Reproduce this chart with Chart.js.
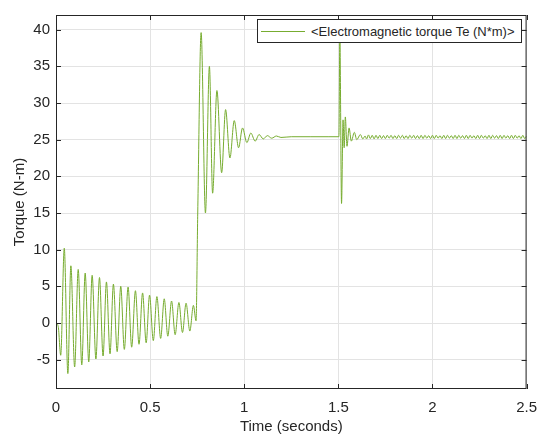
<!DOCTYPE html>
<html>
<head>
<meta charset="utf-8">
<title>Electromagnetic torque</title>
<script src="https://cdn.jsdelivr.net/npm/chart.js@4.4.1/dist/chart.umd.min.js"></script>
<style>
  html, body { margin: 0; padding: 0; background: #fff; }
  #wrap { position: relative; width: 547px; height: 438px; overflow: hidden; }
  #legendBox {
    position: absolute; left: 257px; top: 19px; width: 265px; height: 24px;
    box-sizing: border-box; border: 1px solid #262626; background: #fff;
    font: 13px "Liberation Sans", Arial, sans-serif; color: #262626;
    display: flex; align-items: center; white-space: nowrap;
  }
  #legendBox .swatch { width: 44px; height: 0; border-top: 1px solid #77ac30; margin: 0 6px 0 3px; }
</style>
</head>
<body>
<div id="wrap">
  <canvas id="torqueChart" width="547" height="438"></canvas>
  <div id="legendBox"><span class="swatch"></span><span>&lt;Electromagnetic torque Te (N*m)&gt;</span></div>
</div>
<script>
// ---------------------------------------------------------------
// data (peaks / troughs of each swing)
// ---------------------------------------------------------------
const xTicks = [0, 0.5, 1, 1.5, 2, 2.5];
const yTicks = [-5, 0, 5, 10, 15, 20, 25, 30, 35, 40];

// start-up, no load (0 - 0.75 s)
const startTimes = [0, 0.012, 0.025, 0.044, 0.063, 0.079, 0.099, 0.118, 0.137, 0.155, 0.174,
  0.192, 0.212, 0.231, 0.250, 0.268, 0.287, 0.305, 0.325, 0.344, 0.363,
  0.383, 0.402, 0.422, 0.441, 0.460, 0.479, 0.497, 0.517, 0.536, 0.556,
  0.575, 0.594, 0.614, 0.633, 0.653, 0.672, 0.691, 0.711, 0.730, 0.744, 0.753];
const startTorque = [0, -0.5, -4.4, 10.2, -6.9, 7.8, -6.0, 7.3, -5.7, 6.8, -5.3,
  6.5, -4.9, 6.2, -4.5, 5.6, -4.2, 5.3, -3.9, 5.0, -3.6,
  4.9, -3.3, 4.4, -2.9, 4.1, -2.7, 3.8, -2.4, 3.6, -2.1,
  3.3, -1.8, 3.0, -1.6, 2.8, -1.3, 2.7, -1.1, 2.4, 0.3, 15.0];

// load applied (0.75 - 1.5 s)
const loadTimes = [0.771, 0.794, 0.815, 0.832, 0.855, 0.880, 0.901, 0.924, 0.947, 0.970,
  0.991, 1.014, 1.035, 1.058, 1.079, 1.101, 1.123, 1.146, 1.171, 1.195,
  1.25, 1.35, 1.45, 1.503];
const loadTorque = [39.6, 15.0, 35.0, 17.7, 31.7, 20.5, 29.1, 22.5, 27.6, 23.9,
  26.6, 24.6, 25.9, 24.8, 25.7, 25.1, 25.55, 25.2, 25.5, 25.3,
  25.4, 25.4, 25.4, 25.4];

// disturbance at 1.5 s
const stepTimes = [1.508, 1.517, 1.525, 1.531, 1.537, 1.546, 1.557, 1.569, 1.585, 1.598, 1.617, 1.630, 1.642];
const stepTorque = [39.0, 16.3, 27.7, 23.9, 28.1, 24.1, 26.6, 24.8, 26.0, 25.0, 25.7, 25.1, 25.5];

// steady state with ripple (1.65 - 2.5 s)
const rippleTimes = [1.65, 1.66, 1.67, 1.68, 1.69, 1.70, 1.71, 1.72, 1.73, 1.74,
  1.75, 1.76, 1.77, 1.78, 1.79, 1.80, 1.81, 1.82, 1.83, 1.84,
  1.85, 1.86, 1.87, 1.88, 1.89, 1.90, 1.91, 1.92, 1.93, 1.94,
  1.95, 1.96, 1.97, 1.98, 1.99, 2.00, 2.01, 2.02, 2.03, 2.04,
  2.05, 2.06, 2.07, 2.08, 2.09, 2.10, 2.11, 2.12, 2.13, 2.14,
  2.15, 2.16, 2.17, 2.18, 2.19, 2.20, 2.21, 2.22, 2.23, 2.24,
  2.25, 2.26, 2.27, 2.28, 2.29, 2.30, 2.31, 2.32, 2.33, 2.34,
  2.35, 2.36, 2.37, 2.38, 2.39, 2.40, 2.41, 2.42, 2.43, 2.44,
  2.45, 2.46, 2.47, 2.48, 2.49, 2.50];
const rippleTorque = [25.1, 25.65, 25.15, 25.6, 25.1, 25.6, 25.15, 25.6, 25.15, 25.55,
  25.15, 25.6, 25.2, 25.6, 25.15, 25.55, 25.15, 25.6, 25.2, 25.6,
  25.15, 25.55, 25.15, 25.6, 25.2, 25.6, 25.15, 25.55, 25.15, 25.6,
  25.15, 25.6, 25.2, 25.55, 25.15, 25.6, 25.15, 25.6, 25.2, 25.55,
  25.15, 25.6, 25.15, 25.6, 25.2, 25.55, 25.15, 25.6, 25.15, 25.6,
  25.2, 25.55, 25.15, 25.6, 25.15, 25.6, 25.2, 25.55, 25.15, 25.6,
  25.15, 25.6, 25.2, 25.55, 25.15, 25.6, 25.15, 25.6, 25.2, 25.55,
  25.15, 25.6, 25.15, 25.6, 25.2, 25.55, 25.15, 25.6, 25.15, 25.6,
  25.2, 25.55, 25.15, 25.6, 25.15, 25.5];

const allTimes = [...startTimes, ...loadTimes, ...stepTimes, ...rippleTimes];
const allTorque = [...startTorque, ...loadTorque, ...stepTorque, ...rippleTorque];
const points = allTimes.map((t, i) => ({ x: t, y: allTorque[i] }));

const axisColor = '#262626';
const gridColor = '#e3e3e3';
const fontFamily = '"Liberation Sans", Arial, Helvetica, sans-serif';

// MATLAB style box: inward ticks on all four sides + dark frame
const boxTicks = {
  id: 'boxTicks',
  afterDatasetsDraw(chart) {
    const { ctx, chartArea: a, scales: { x, y } } = chart;
    ctx.save();
    ctx.strokeStyle = axisColor;
    ctx.lineWidth = 1;
    ctx.strokeRect(a.left + 0.5, a.top + 0.5, a.right - a.left - 1, a.bottom - a.top - 1);
    ctx.beginPath();
    xTicks.forEach(v => {
      const px = Math.round(x.getPixelForValue(v)) + 0.5;
      ctx.moveTo(px, a.bottom); ctx.lineTo(px, a.bottom - 5);
      ctx.moveTo(px, a.top); ctx.lineTo(px, a.top + 5);
    });
    yTicks.forEach(v => {
      const py = Math.round(y.getPixelForValue(v)) + 0.5;
      ctx.moveTo(a.left, py); ctx.lineTo(a.left + 5, py);
      ctx.moveTo(a.right, py); ctx.lineTo(a.right - 5, py);
    });
    ctx.stroke();
    ctx.restore();
  }
};

new Chart(document.getElementById('torqueChart'), {
  type: 'line',
  data: {
    datasets: [{
      label: '<Electromagnetic torque Te (N*m)>',
      data: points,
      borderColor: '#77ac30',
      borderWidth: 1,
      pointRadius: 0,
      cubicInterpolationMode: 'monotone',
      fill: false
    }]
  },
  options: {
    responsive: false,
    devicePixelRatio: 1,
    animation: false,
    layout: { padding: { top: 8, right: 18, left: 0, bottom: 0 } },
    plugins: { legend: { display: false }, tooltip: { enabled: false } },
    scales: {
      x: {
        type: 'linear',
        min: 0,
        max: 2.5,
        afterBuildTicks: s => { s.ticks = xTicks.map(v => ({ value: v })); },
        afterFit: s => { s.height = 49; },
        grid: { color: gridColor, drawTicks: false },
        border: { display: false },
        ticks: {
          color: axisColor, padding: 10, maxRotation: 0, autoSkip: false,
          font: { family: fontFamily, size: 15 },
          callback: v => String(v)
        },
        title: {
          display: true, text: 'Time (seconds)', color: axisColor,
          font: { family: fontFamily, size: 15 }, padding: { top: 0, bottom: 2 }
        }
      },
      y: {
        min: -9,
        max: 42,
        afterBuildTicks: s => { s.ticks = yTicks.map(v => ({ value: v })); },
        afterFit: s => { s.width = 56; },
        grid: { color: gridColor, drawTicks: false },
        border: { display: false },
        ticks: {
          color: axisColor, padding: 6,
          font: { family: fontFamily, size: 15 },
          callback: v => String(v)
        },
        title: {
          display: true, text: 'Torque (N-m)', color: axisColor,
          font: { family: fontFamily, size: 15 }, padding: { top: 11, bottom: 0 }
        }
      }
    }
  },
  plugins: [boxTicks]
});
</script>
</body>
</html>
